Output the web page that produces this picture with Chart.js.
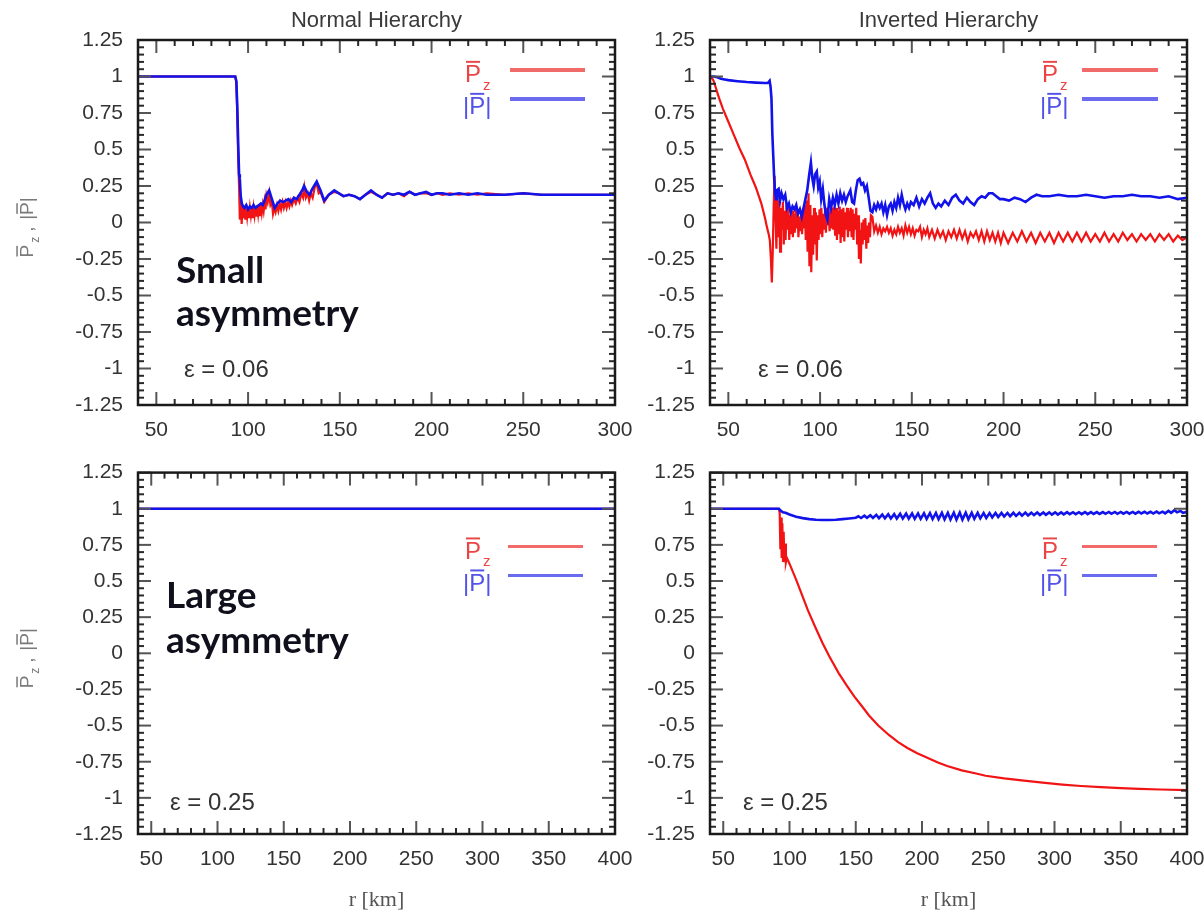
<!DOCTYPE html>
<html>
<head>
<meta charset="utf-8">
<script src="https://cdn.jsdelivr.net/npm/chart.js@4/dist/chart.umd.min.js"></script>
<style>
  html, body { margin: 0; padding: 0; background: #fff; width: 1204px; height: 913px; overflow: hidden; }
  canvas { position: absolute; }
</style>
</head>
<body>
<canvas id="nhSmall" width="650" height="455" style="left:0px;top:0px;width:650px;height:455px"></canvas>
<canvas id="ihSmall" width="580" height="455" style="left:640px;top:0px;width:580px;height:455px"></canvas>
<canvas id="nhLarge" width="650" height="468" style="left:0px;top:445px;width:650px;height:468px"></canvas>
<canvas id="ihLarge" width="580" height="468" style="left:640px;top:445px;width:580px;height:468px"></canvas>
<script>
// ---- tick labels ----
const xTicksShort = [50, 100, 150, 200, 250, 300];
const xTicksLong = [50, 100, 150, 200, 250, 300, 350, 400];
const yTicks = [-1.25, -1, -0.75, -0.5, -0.25, 0, 0.25, 0.5, 0.75, 1, 1.25];
const yTickLabels = ['-1.25', '-1', '-0.75', '-0.5', '-0.25', '0', '0.25', '0.5', '0.75', '1', '1.25'];

// ---- Normal hierarchy, eps = 0.06 : [r (km), value] ----
const nhSmallP = [[40,1],[93,1],[93.6,0.97],[94.1,0.8],[94.6,0.55],[95.1,0.33],[95.5,0.3],[96,0.18],[96.6,0.13],[97.3,0.11],[98,0.1],[99,0.12],[100,0.09],[101,0.11],[102,0.1],[103,0.12],[104,0.1],[105,0.11],[106,0.12],[107,0.13],[108,0.12],[109,0.15],[110,0.19],[111.5,0.22],[113,0.16],[114.5,0.1],[116,0.13],[117.5,0.15],[119,0.14],[120.5,0.15],[122,0.16],[123.5,0.14],[125,0.17],[126.5,0.16],[128,0.19],[129.5,0.22],[130.5,0.25],[132,0.21],[133.5,0.19],[135,0.23],[137.4,0.28],[139.5,0.22],[141.5,0.15],[144,0.19],[147,0.22],[149.5,0.2],[152,0.18],[155,0.19],[158,0.18],[161,0.16],[164,0.19],[167,0.22],[170,0.19],[173,0.17],[176,0.2],[179,0.19],[182,0.2],[185,0.19],[188,0.21],[191,0.19],[194,0.2],[197,0.21],[200,0.19],[203,0.2],[206,0.2],[210,0.19],[215,0.2],[220,0.19],[225,0.2],[230,0.19],[240,0.19],[250,0.2],[260,0.19],[270,0.19],[280,0.19],[290,0.19],[300,0.19]];
const nhSmallPz = [[40,1],[93,1],[93.6,0.96],[94.1,0.75],[94.6,0.45],[95.1,0.25],[95.5,0.02],[96,0.15],[96.5,-0.01],[97,0.12],[97.5,0.03],[98,0.11],[98.5,0.02],[99,0.1],[99.5,0.04],[100,0.1],[100.5,0.03],[101,0.1],[101.5,0.05],[102,0.11],[102.5,0.03],[103,0.1],[103.5,0.05],[104,0.11],[104.5,0.04],[105,0.12],[105.5,0.06],[106,0.12],[106.5,0.05],[107,0.13],[107.5,0.07],[108,0.12],[108.5,0.08],[109,0.14],[109.5,0.09],[110,0.18],[110.7,0.14],[111.5,0.2],[112.2,0.12],[113,0.14],[113.6,0.06],[114.3,0.1],[115,0.07],[115.8,0.12],[116.5,0.08],[117.3,0.13],[118,0.09],[118.8,0.14],[119.5,0.1],[120.3,0.14],[121,0.1],[121.8,0.14],[122.5,0.11],[123.3,0.15],[124,0.12],[125,0.16],[126,0.13],[127,0.17],[128,0.14],[129,0.2],[130,0.17],[130.7,0.24],[131.5,0.17],[132.5,0.2],[133.3,0.15],[134.2,0.2],[135.2,0.17],[136.3,0.24],[137.4,0.27],[138.5,0.2],[139.5,0.21],[141.5,0.14],[144,0.19],[147,0.21],[149.5,0.2],[152,0.18],[155,0.19],[158,0.18],[161,0.16],[164,0.19],[167,0.21],[170,0.19],[173,0.17],[176,0.2],[179,0.19],[182,0.2],[185,0.18],[188,0.21],[191,0.19],[194,0.2],[197,0.2],[200,0.19],[203,0.2],[206,0.19],[210,0.2],[215,0.19],[220,0.2],[225,0.19],[230,0.2],[240,0.19],[250,0.2],[260,0.19],[270,0.19],[280,0.19],[290,0.19],[300,0.19]];

// ---- Inverted hierarchy, eps = 0.06 ----
const ihSmallP = [[40,1],[42,1],[44,0.995],[45,0.99],[46,0.985],[48,0.98],[50,0.975],[55,0.968],[60,0.962],[65,0.958],[70,0.955],[71.5,0.955],[72.5,0.97],[73,0.93],[73.5,0.85],[74,0.6],[74.5,0.45],[75,0.3],[75.5,0.2],[76,0.16],[76.5,0.22],[77.4,0.23],[78.2,0.15],[79,0.2],[80,0.16],[81,0.19],[82,0.1],[83,0.13],[84,0.07],[85,0.11],[86,0.09],[87,0.12],[88,0.06],[89,0.09],[90,0.04],[91,0.1],[92,0.16],[93,0.22],[94,0.32],[95,0.41],[95.8,0.3],[96.5,0.25],[97.3,0.33],[98.2,0.35],[99,0.24],[99.8,0.28],[100.6,0.16],[101.5,0.23],[102.3,0.13],[103.2,0.05],[104,0.02],[105,0.16],[106,0.1],[107,0.17],[108,0.12],[109,0.19],[110,0.13],[111,0.2],[112,0.15],[113,0.19],[114,0.14],[115,0.18],[116.5,0.22],[117.5,0.14],[118.5,0.13],[119.5,0.22],[120.5,0.29],[121.5,0.3],[122.5,0.26],[123.5,0.27],[124.5,0.22],[125.5,0.25],[126.5,0.17],[127.5,0.08],[128.5,0.07],[129.5,0.12],[130.5,0.09],[131.5,0.13],[132.5,0.1],[133.5,0.13],[134.5,0.07],[135.5,0.12],[136.5,0.05],[137.5,0.11],[138.5,0.13],[139.5,0.08],[140.5,0.14],[141.5,0.1],[142.5,0.17],[143.5,0.12],[144.5,0.19],[145.5,0.13],[146.5,0.09],[147.5,0.13],[148.5,0.1],[149.5,0.14],[151,0.12],[152.5,0.17],[154,0.11],[155.5,0.16],[157,0.13],[158.5,0.17],[160,0.2],[161.5,0.13],[163,0.1],[164.5,0.13],[166,0.11],[168,0.15],[170,0.12],[172,0.17],[174,0.19],[176,0.15],[178,0.13],[180,0.17],[182,0.14],[184,0.12],[186,0.16],[188,0.18],[190,0.17],[192,0.2],[194,0.2],[196,0.18],[198,0.16],[200,0.16],[203,0.15],[206,0.17],[209,0.16],[212,0.14],[215,0.17],[218,0.19],[221,0.18],[225,0.18],[230,0.19],[235,0.18],[240,0.18],[245,0.19],[250,0.18],[255,0.17],[260,0.18],[265,0.18],[270,0.19],[275,0.18],[280,0.18],[285,0.17],[290,0.18],[295,0.16],[300,0.17]];
const ihSmallPz = [[40,1],[41,0.99],[42,0.97],[43,0.93],[44,0.89],[45,0.85],[47,0.78],[50,0.69],[53,0.6],[56,0.51],[59,0.43],[62,0.33],[65,0.24],[68,0.13],[70,0.03],[71,-0.03],[72,-0.08],[72.6,-0.12],[73.2,-0.25],[73.7,-0.41],[74.2,-0.2],[74.7,0.1],[75.2,0.32],[75.7,0.05],[76.2,-0.18],[76.7,0.18],[77.2,-0.1],[77.7,0.15],[78.2,-0.2],[78.7,0.1],[79.2,-0.05],[79.7,0.14],[80.2,-0.15],[80.7,0.08],[81.2,-0.12],[81.7,0.12],[82.2,-0.05],[82.7,0.1],[83.2,-0.12],[83.7,0.05],[84.2,-0.08],[84.7,0.08],[85.2,-0.1],[85.7,0.06],[86.2,-0.07],[86.7,0.09],[87.2,-0.04],[87.7,0.07],[88.2,-0.1],[88.7,0.04],[89.2,-0.06],[89.7,0.08],[90.2,-0.08],[90.7,0.1],[91.2,-0.04],[91.7,0.12],[92.2,-0.12],[92.7,0.15],[93.2,-0.2],[93.7,0.2],[94.2,-0.3],[94.7,0.12],[95.2,-0.34],[95.7,0.05],[96.2,-0.22],[96.7,0.1],[97.2,-0.15],[97.7,0.07],[98.2,-0.26],[98.7,0.05],[99.2,-0.12],[99.7,0.09],[100.2,-0.08],[100.7,0.1],[101.2,-0.1],[101.7,0.06],[102.2,-0.05],[102.7,0.08],[103.2,-0.07],[103.7,0.1],[104.2,-0.02],[104.7,0.07],[105.2,-0.06],[105.7,0.09],[106.2,-0.04],[106.7,0.1],[107.2,-0.05],[107.7,0.11],[108.2,-0.09],[108.7,0.1],[109.2,-0.12],[109.7,0.08],[110.2,-0.08],[110.7,0.11],[111.2,-0.14],[111.7,0.09],[112.2,-0.1],[112.7,0.1],[113.2,-0.13],[113.7,0.07],[114.2,-0.05],[114.7,0.1],[115.2,-0.1],[115.7,0.08],[116.2,-0.06],[116.7,0.1],[117.2,-0.1],[117.7,0.09],[118.2,-0.12],[118.7,0.06],[119.2,-0.05],[119.7,0.1],[120.2,-0.15],[120.7,0.05],[121.2,-0.25],[121.7,-0.05],[122.2,-0.28],[122.7,0],[123.2,-0.15],[123.7,0.02],[124.2,-0.12],[124.7,0.03],[125.2,-0.18],[125.7,-0.02],[126.2,-0.14],[126.7,0],[127.2,-0.1],[127.7,0.05],[128.5,0.04],[129.5,-0.06],[130.5,-0.02],[131.5,-0.07],[132.5,-0.03],[133.5,-0.08],[134.5,-0.04],[135.5,-0.06],[136.5,-0.03],[137.5,-0.07],[138.5,-0.04],[139.5,-0.09],[140.5,-0.05],[141.5,-0.08],[142.5,-0.03],[143.5,-0.07],[144.5,-0.04],[145.5,-0.09],[146.5,-0.02],[147.5,-0.07],[148.5,-0.03],[149.5,-0.08],[150.5,-0.04],[151.5,-0.09],[152.5,-0.05],[153.5,-0.06],[154.5,-0.03],[155.5,-0.1],[156.5,-0.05],[157.5,-0.08],[158.5,-0.04],[159.5,-0.1],[161,-0.05],[162.5,-0.11],[164,-0.05],[165.5,-0.1],[167,-0.06],[168.5,-0.12],[170,-0.06],[171.5,-0.1],[173,-0.05],[174.5,-0.11],[176,-0.05],[177.5,-0.11],[179,-0.06],[180.5,-0.13],[182,-0.07],[183.5,-0.1],[185,-0.06],[186.5,-0.12],[188,-0.06],[189.5,-0.13],[191,-0.06],[192.5,-0.12],[194,-0.07],[195.5,-0.13],[197,-0.07],[198.5,-0.14],[200,-0.07],[202.5,-0.14],[205,-0.07],[207.5,-0.13],[210,-0.06],[212.5,-0.13],[215,-0.07],[217.5,-0.14],[220,-0.07],[222.5,-0.13],[225,-0.07],[227.5,-0.14],[230,-0.07],[232.5,-0.13],[235,-0.07],[237.5,-0.13],[240,-0.07],[242.5,-0.13],[245,-0.07],[247.5,-0.13],[250,-0.08],[252.5,-0.13],[255,-0.07],[257.5,-0.13],[260,-0.08],[262.5,-0.13],[265,-0.07],[267.5,-0.12],[270,-0.08],[272.5,-0.13],[275,-0.08],[277.5,-0.12],[280,-0.08],[282.5,-0.13],[285,-0.08],[287.5,-0.12],[290,-0.08],[292.5,-0.13],[295,-0.09],[297.5,-0.12],[300,-0.1]];

// ---- Normal hierarchy, eps = 0.25 ----
const nhLargeP = [[40,1],[400,1]];
const nhLargePz = [[40,1],[400,1]];

// ---- Inverted hierarchy, eps = 0.25 ----
const ihLargeP = [[40,1],[92,1],[93,0.99],[95,0.975],[97,0.972],[100,0.96],[105,0.945],[110,0.935],[115,0.928],[120,0.924],[125,0.922],[130,0.922],[135,0.924],[140,0.928],[145,0.933],[150,0.938],[152,0.948],[154,0.936],[156.5,0.952],[158.5,0.937],[161,0.955],[163,0.936],[165.5,0.958],[167.5,0.935],[170,0.96],[172,0.934],[174.5,0.962],[176.5,0.933],[179,0.963],[181,0.932],[183.5,0.965],[185.5,0.932],[188,0.966],[190,0.931],[192.5,0.967],[194.5,0.93],[197,0.968],[199,0.93],[201.5,0.969],[203.5,0.93],[206,0.97],[208,0.929],[210.5,0.971],[212.5,0.928],[215,0.972],[217,0.927],[219.5,0.972],[221.5,0.926],[224,0.973],[226,0.925],[228.5,0.973],[230.5,0.925],[233,0.973],[235,0.927],[237.5,0.972],[239.5,0.93],[242,0.971],[244,0.933],[246.5,0.97],[248.5,0.936],[251,0.97],[253,0.94],[255.5,0.97],[257.5,0.943],[260,0.971],[262,0.946],[264.5,0.971],[266.5,0.948],[269,0.972],[271,0.95],[273.5,0.972],[275.5,0.952],[278,0.973],[280,0.954],[282.5,0.973],[284.5,0.956],[287,0.974],[289,0.957],[291.5,0.974],[293.5,0.958],[296,0.975],[298,0.959],[300.5,0.975],[302.5,0.96],[305,0.975],[307,0.961],[309.5,0.976],[311.5,0.962],[314,0.976],[316,0.962],[318.5,0.976],[320.5,0.963],[323,0.977],[325,0.963],[327.5,0.977],[329.5,0.964],[332,0.977],[334,0.964],[336.5,0.977],[338.5,0.965],[341,0.978],[343,0.965],[345.5,0.978],[347.5,0.965],[350,0.978],[352,0.966],[354.5,0.978],[356.5,0.966],[359,0.978],[361,0.966],[363.5,0.979],[365.5,0.967],[368,0.979],[370,0.967],[372.5,0.979],[374.5,0.967],[377,0.98],[379,0.968],[381.5,0.98],[383.5,0.968],[386,0.985],[388,0.972],[390.5,0.99],[392.5,0.975],[395,0.985],[397,0.972],[400,0.978]];
const ihLargePz = [[40,1],[92,1],[92.6,0.97],[93.1,0.72],[93.6,0.94],[94.1,0.66],[94.6,0.9],[95.1,0.64],[95.6,0.84],[96.1,0.63],[96.7,0.76],[97.3,0.63],[98,0.66],[99,0.64],[100,0.62],[105,0.51],[110,0.39],[114,0.295],[120,0.17],[125,0.07],[130,-0.02],[137,-0.135],[143,-0.22],[149,-0.3],[155,-0.37],[160,-0.43],[167,-0.5],[175,-0.565],[182,-0.615],[189,-0.655],[196,-0.69],[204,-0.723],[212,-0.755],[219,-0.78],[230,-0.81],[240,-0.83],[248,-0.847],[262,-0.865],[277,-0.881],[291,-0.895],[306,-0.908],[320,-0.918],[335,-0.926],[350,-0.932],[364,-0.938],[380,-0.942],[400,-0.946]];

const SANS = "'Liberation Sans', Arial, sans-serif";
const SERIF = "'Liberation Serif', 'Times New Roman', serif";
const BLUE = '#1212ea';
const RED = '#f21414';

Chart.defaults.font.family = SANS;

// "P" with a bar on top, optionally wrapped in |...| or followed by subscript z
function barredP(ctx, x, base, size, kind) {
  ctx.font = size + 'px ' + SANS;
  let px = x;
  if (kind === 'abs') { ctx.fillText('|', px, base); px += ctx.measureText('|').width; }
  ctx.fillText('P', px, base);
  const pw = ctx.measureText('P').width;
  ctx.fillRect(px + 1, base - size * 0.88, pw - 2, Math.max(1.5, size * 0.08));
  px += pw;
  if (kind === 'abs') {
    ctx.fillText('|', px, base);
    px += ctx.measureText('|').width;
  } else {
    ctx.font = Math.round(size * 0.62) + 'px ' + SANS;
    ctx.fillText('z', px + 2, base + size * 0.32);
    px += 2 + ctx.measureText('z').width;
  }
  return px - x;
}

const panelDeco = {
  id: 'panelDeco',
  afterDatasetsDraw(chart, _args, o) {
    const ctx = chart.ctx, a = chart.chartArea;
    const xs = chart.scales.x, ys = chart.scales.y;
    ctx.save();
    const seg = (x1, y1, x2, y2, w, c) => {
      ctx.beginPath(); ctx.lineWidth = w; ctx.strokeStyle = c;
      ctx.moveTo(x1, y1); ctx.lineTo(x2, y2); ctx.stroke();
    };
    // inward ticks on all four sides: minor every 10 km / 0.05, major every 50 km / 0.25
    const nx = Math.round((xs.max - xs.min) / 10);
    for (let i = 0; i <= nx; i++) {
      const v = xs.min + i * 10;
      const p = xs.getPixelForValue(v);
      const major = v % 50 === 0;
      const L = major ? 13 : 6, c = major ? '#555' : '#2a2a2a';
      seg(p, a.top, p, a.top + L, 2, c);
      seg(p, a.bottom, p, a.bottom - L, 2, c);
    }
    for (let i = 0; i <= 50; i++) {
      const p = ys.getPixelForValue(-1.25 + i * 0.05);
      const major = i % 5 === 0;
      const L = major ? 13 : 6, c = major ? '#555' : '#2a2a2a';
      seg(a.left, p, a.left + L, p, 2, c);
      seg(a.right, p, a.right - L, p, 2, c);
    }
    // plot frame
    ctx.lineWidth = 2.5; ctx.strokeStyle = '#1a1a1a';
    ctx.strokeRect(a.left, a.top, a.right - a.left, a.bottom - a.top);

    ctx.textBaseline = 'alphabetic';
    ctx.textAlign = 'left';
    const cx = (a.left + a.right) / 2;

    if (o.title) {
      ctx.font = '22px ' + SANS; ctx.fillStyle = '#3a3a3a'; ctx.textAlign = 'center';
      ctx.fillText(o.title, cx, a.top - 13);
      ctx.textAlign = 'left';
    }
    if (o.note) {
      ctx.font = 'bold 37px Lato, ' + SANS; ctx.fillStyle = '#10101c';
      o.note.forEach(([t, dy]) => ctx.fillText(t, a.left + o.noteDx, a.top + dy));
    }
    // epsilon label
    ctx.font = '24px ' + SANS; ctx.fillStyle = '#333';
    ctx.fillText(o.eps, a.left + o.epsDx, a.top + 337);

    // legend
    const L = o.legend;
    ctx.fillStyle = '#e94545';
    barredP(ctx, a.left + L.dx, a.top + L.dy, 24, 'z');
    ctx.fillStyle = '#5252e8';
    barredP(ctx, a.left + L.dx - 2, a.top + L.dy + 32, 24, 'abs');
    ctx.lineCap = 'butt';
    seg(a.left + L.lx1, a.top + L.dy - 12, a.left + L.lx2, a.top + L.dy - 12, L.lw, 'rgba(238,70,70,0.8)');
    seg(a.left + L.lx1, a.top + L.dy + 17, a.left + L.lx2, a.top + L.dy + 17, L.lw, 'rgba(70,70,236,0.8)');

    // axis titles
    if (o.yTitle) {
      ctx.save();
      ctx.translate(a.left - 112, (a.top + a.bottom) / 2);
      ctx.rotate(-Math.PI / 2);
      ctx.fillStyle = '#7a7a7a';
      const x0 = -35;
      const used = barredP(ctx, x0, 7, 19, 'z');
      ctx.font = '19px ' + SANS;
      ctx.fillText(',', x0 + used + 5, 7);
      barredP(ctx, x0 + used + 17, 7, 19, 'abs');
      ctx.restore();
    }
    if (o.xTitle) {
      ctx.font = '22px ' + SERIF; ctx.fillStyle = '#555'; ctx.textAlign = 'center';
      ctx.fillText(o.xTitle, cx, a.bottom + 72);
    }
    ctx.restore();
  }
};

function makePanel(id, p, pz, xMax, xTicks, box, deco) {
  return new Chart(document.getElementById(id), {
    type: 'line',
    data: {
      datasets: [
        { label: '|P|', data: p.map(([x, y]) => ({ x, y })), borderColor: BLUE, borderWidth: 2.6,
          pointRadius: 0, tension: 0, fill: false },
        { label: 'Pz', data: pz.map(([x, y]) => ({ x, y })), borderColor: RED, borderWidth: 2.2,
          pointRadius: 0, tension: 0, fill: false }
      ]
    },
    options: {
      responsive: false,
      animation: false,
      devicePixelRatio: 1,
      layout: { padding: { left: 0, top: box.top, right: box.right, bottom: 0 } },
      plugins: { legend: { display: false }, tooltip: { enabled: false }, panelDeco: deco },
      scales: {
        x: {
          type: 'linear', min: 40, max: xMax,
          grid: { display: false, drawTicks: false }, border: { display: false },
          afterBuildTicks: s => { s.ticks = xTicks.map(v => ({ value: v })); },
          afterFit: s => { s.height = box.xAxisH; },
          ticks: { font: { size: 21 }, color: '#333', padding: 13, maxRotation: 0, autoSkip: false,
                   callback: (v, i) => String(xTicks[i]) }
        },
        y: {
          type: 'linear', min: -1.25, max: 1.25,
          grid: { display: false, drawTicks: false }, border: { display: false },
          afterBuildTicks: s => { s.ticks = yTicks.map(v => ({ value: v })); },
          afterFit: s => { s.width = box.yAxisW; },
          ticks: { font: { size: 21 }, color: '#333', padding: 15, autoSkip: false,
                   callback: (v, i) => yTickLabels[i] }
        }
      }
    },
    plugins: [panelDeco]
  });
}

makePanel('nhSmall', nhSmallP, nhSmallPz, 300, xTicksShort,
  { top: 40, right: 35, yAxisW: 138, xAxisH: 50 },
  { title: 'Normal Hierarchy', note: [['Small', 243], ['asymmetry', 286]], noteDx: 38,
    eps: 'ε = 0.06', epsDx: 46, yTitle: true,
    legend: { dx: 327, dy: 42, lx1: 372, lx2: 447, lw: 4 } });

makePanel('ihSmall', ihSmallP, ihSmallPz, 300, xTicksShort,
  { top: 40, right: 33, yAxisW: 70, xAxisH: 50 },
  { title: 'Inverted Hierarchy', eps: 'ε = 0.06', epsDx: 48,
    legend: { dx: 332, dy: 42, lx1: 372, lx2: 448, lw: 4 } });

makePanel('nhLarge', nhLargeP, nhLargePz, 400, xTicksLong,
  { top: 21, right: 35, yAxisW: 138, xAxisH: 79 },
  { note: [['Large', 135], ['asymmetry', 180]], noteDx: 28,
    eps: 'ε = 0.25', epsDx: 32, yTitle: true, xTitle: 'r [km]',
    legend: { dx: 327, dy: 86, lx1: 370, lx2: 445, lw: 3 } });

makePanel('ihLarge', ihLargeP, ihLargePz, 400, xTicksLong,
  { top: 21, right: 33, yAxisW: 70, xAxisH: 79 },
  { eps: 'ε = 0.25', epsDx: 33, xTitle: 'r [km]',
    legend: { dx: 332, dy: 86, lx1: 372, lx2: 447, lw: 3 } });
</script>
</body>
</html>
